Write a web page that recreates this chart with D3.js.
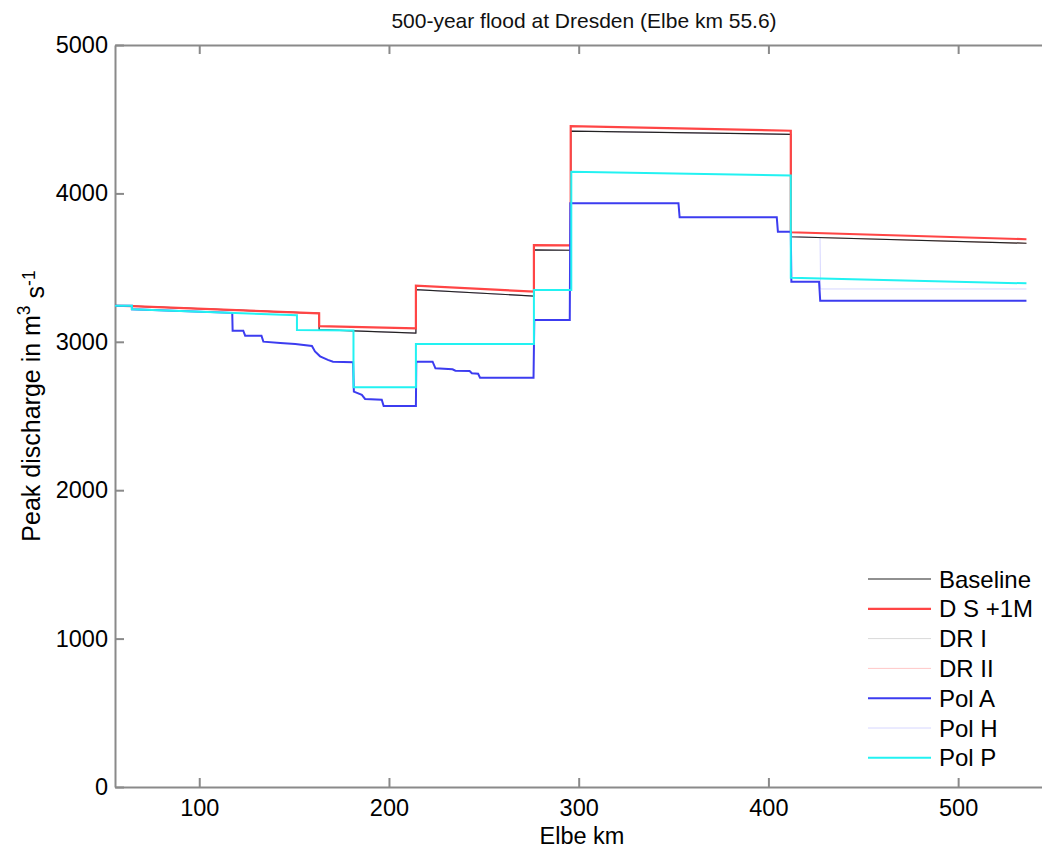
<!DOCTYPE html>
<html>
<head>
<meta charset="utf-8">
<script src="https://cdn.jsdelivr.net/npm/d3@7/dist/d3.min.js"></script>
<style>
  html, body { margin: 0; padding: 0; background: #fff; }
  svg { display: block; font-family: "Liberation Sans", Arial, Helvetica, sans-serif; }
</style>
</head>
<body>
<svg id="chart" width="1042" height="848"></svg>
<script>
// ---------------- data (km, peak discharge m3/s) ----------------
const title = "500-year flood at Dresden (Elbe km 55.6)";
const xTicks = [100, 200, 300, 400, 500];
const yTicks = [0, 1000, 2000, 3000, 4000, 5000];

const baseline = [
  [55.6, 3243], [64.5, 3240], [163.2, 3192], [163.2, 3082], [214.2, 3059],
  [214.2, 3352], [276.4, 3308], [276.4, 3619], [295.8, 3617], [295.8, 4420],
  [411.8, 4398], [411.8, 3708], [536, 3664]
];
const dsPlus1M = [
  [55.6, 3243], [64.5, 3240], [163.2, 3192], [163.2, 3106], [214.2, 3091],
  [214.2, 3378], [276.4, 3338], [276.4, 3652], [295.8, 3650], [295.8, 4454],
  [411.8, 4422], [411.8, 3738], [536, 3691]
];
const drI = baseline;
const drII = baseline;
const polA = [
  [55.6, 3243], [64.5, 3243], [64.5, 3219], [117.4, 3195], [117.6, 3075],
  [123.2, 3075], [124.2, 3041], [132.8, 3041], [133.8, 3001], [142.7, 2992],
  [150.6, 2985], [159.4, 2972], [161, 2935], [163.7, 2902], [167.8, 2878],
  [170.5, 2866], [181.1, 2862], [181.5, 2664], [185.7, 2642], [187.4, 2615],
  [196.2, 2609], [197.2, 2567], [214.2, 2567], [214.4, 2866], [223, 2866],
  [224.5, 2821], [233.5, 2815], [235, 2805], [242.5, 2803], [243.7, 2788],
  [247, 2785], [248, 2758], [276.2, 2758], [276.6, 3147], [295.3, 3147],
  [295.6, 3933], [352.6, 3933], [353.2, 3839], [404.4, 3839], [405, 3742],
  [411.8, 3742], [412.1, 3405], [426.7, 3405], [427.3, 3277], [536, 3277]
];
const polH = [
  [55.6, 3243], [64.5, 3240], [163.2, 3192], [163.2, 3082], [214.2, 3059],
  [214.2, 3352], [276.4, 3308], [276.4, 3619], [295.8, 3617], [295.8, 4420],
  [411.8, 4398], [411.8, 3708], [427.2, 3703], [427.5, 3356], [536, 3356]
];
const polP = [
  [55.6, 3243], [64.5, 3243], [64.5, 3219], [151.5, 3179], [151.5, 3080],
  [181.3, 3076], [181.3, 2693], [214.2, 2693], [214.2, 2985], [276.4, 2985],
  [276.4, 3349], [296.1, 3349], [296.1, 4146], [411.8, 4120], [411.8, 3432],
  [536, 3394]
];

const seriesNames = ["Baseline", "D S +1M", "DR I", "DR II", "Pol A", "Pol H", "Pol P"];
const seriesData = [baseline, dsPlus1M, drI, drII, polA, polH, polP];
const seriesColors = ["#222222", "#ff4545", "#d9d9d9", "#ffc8c8", "#3c3cf0", "#d6d6ff", "#22f2f2"];
const seriesWidths = [1.2, 2.2, 1, 1, 2, 1, 2];
// draw order: light series underneath, then baseline, D S, Pol A, Pol P
const drawOrder = [2, 3, 5, 0, 1, 4, 6];

// ---------------- layout ----------------
const svg = d3.select("#chart");
const mLeft = 115, mRight = 1053, mTop = 45, mBottom = 787;
const x = d3.scaleLinear().domain([55.6, 550]).range([mLeft, mRight]);
const y = d3.scaleLinear().domain([0, 5000]).range([mBottom, mTop]);
const axisColor = "#8a8a8a";
const tickFont = 23.5;

// axes (inward ticks, MATLAB style)
const gx = svg.append("g").attr("transform", `translate(0,${mBottom})`)
  .call(d3.axisBottom(x).tickValues(xTicks).tickSizeInner(-9).tickSizeOuter(0).tickPadding(12));
const gxt = svg.append("g").attr("transform", `translate(0,${mTop})`)
  .call(d3.axisTop(x).tickValues(xTicks).tickSizeInner(-9).tickSizeOuter(0).tickFormat(""));
const gy = svg.append("g").attr("transform", `translate(${mLeft},0)`)
  .call(d3.axisLeft(y).tickValues(yTicks).tickFormat(d3.format("d"))
    .tickSizeInner(-9).tickSizeOuter(0).tickPadding(7));

[gx, gxt, gy].forEach(g => {
  g.select(".domain").attr("stroke", axisColor).attr("stroke-width", 2);
  g.selectAll(".tick line").attr("stroke", axisColor).attr("stroke-width", 2);
  g.selectAll(".tick text").attr("fill", "#000").style("font-size", tickFont + "px")
    .style("font-family", "'Liberation Sans', Arial, Helvetica, sans-serif");
});

// lines
const line = d3.line().x(d => x(d[0])).y(d => y(d[1]));
const plot = svg.append("g");
drawOrder.forEach(i => {
  plot.append("path")
    .datum(seriesData[i])
    .attr("fill", "none")
    .attr("stroke", seriesColors[i])
    .attr("stroke-width", seriesWidths[i])
    .attr("stroke-linejoin", "miter")
    .attr("d", line);
});

// title
svg.append("text")
  .attr("x", 584).attr("y", 28)
  .attr("text-anchor", "middle")
  .style("font-size", "21px")
  .attr("fill", "#111")
  .text(title);

// x label
svg.append("text")
  .attr("x", 582).attr("y", 844)
  .attr("text-anchor", "middle")
  .style("font-size", "23.5px")
  .text("Elbe km");

// y label with superscripts
const yl = svg.append("text")
  .attr("transform", "translate(40,406) rotate(-90)")
  .attr("text-anchor", "middle")
  .style("font-size", "25px");
yl.append("tspan").text("Peak discharge in m");
yl.append("tspan").attr("dy", "-0.55em").style("font-size", "17.5px").text("3");
yl.append("tspan").attr("dy", "0.55em").text(" s");
yl.append("tspan").attr("dy", "-0.55em").style("font-size", "17.5px").text("-1");

// legend
const legX1 = 868, legX2 = 931, legTextX = 939, legY0 = 579, legDY = 29.8;
const leg = svg.append("g");
seriesNames.forEach((name, i) => {
  const yy = legY0 + i * legDY;
  leg.append("line")
    .attr("x1", legX1).attr("x2", legX2).attr("y1", yy).attr("y2", yy)
    .attr("stroke", seriesColors[i]).attr("stroke-width", seriesWidths[i]);
  leg.append("text")
    .attr("x", legTextX).attr("y", yy)
    .attr("dominant-baseline", "central")
    .style("font-size", "24px")
    .text(name);
});
</script>
</body>
</html>
